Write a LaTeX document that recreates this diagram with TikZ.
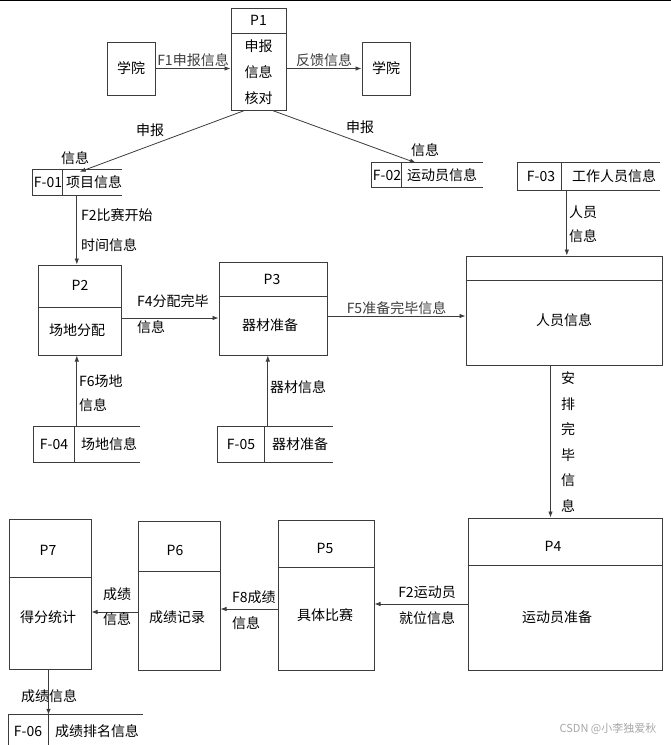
\documentclass[tikz,border=0pt]{standalone}
\usepackage{fontspec}
\setmainfont{Noto Sans CJK SC}
\usetikzlibrary{arrows.meta, positioning, calc}
\definecolor{lgray}{RGB}{60,60,60}
\tikzset{
    procbox/.style={rectangle, draw=lgray, line width=1pt, inner sep=0pt},
    extbox/.style={rectangle, draw=lgray, line width=1pt, inner sep=0pt, minimum width=48pt, minimum height=53pt, font=\fontsize{14}{16}\selectfont},
    storebox/.style={rectangle, inner sep=0pt},
    sepline/.style={draw=lgray, line width=1pt},
    txt/.style={font=\fontsize{14}{16}\selectfont, inner sep=1pt},
    lines/.style={font=\fontsize{14}{#1}\selectfont, inner sep=1pt},
    flow/.style={-{Latex[length=6pt,width=4.5pt]}, line width=0.8pt, lgray},
}
% open-ended data store: name, divider offset
\newcommand{\dstore}[2]{%
    \draw[sepline] (#1.north east) -- (#1.north west) -- (#1.south west) -- (#1.south east)
        ($(#1.north west)+(#2,0)$) -- ($(#1.south west)+(#2,0)$);}

\begin{document}
\begin{tikzpicture}[x=1pt, y=-1pt]
\useasboundingbox (0,0) rectangle (671,745);
\draw[line width=1.2pt] (0,0.6) -- (671,0.6);

% External entities
\node[extbox] (xy1) at (131,68.5) {学院};
\node[extbox] (xy2) at (386,68.5) {学院};

% P1
\node[procbox, minimum width=55pt, minimum height=102pt] (p1) at (258.5,59) {};
\draw[sepline] (p1.west |- 0,33) -- (p1.east |- 0,33);
\node[txt] (p1id) at (258.5,20.5) {P1};
\node[lines=26, align=center] (p1name) at (258.5,72) {申报\\信息\\核对};

% Data stores
\node[storebox, minimum width=89pt, minimum height=25pt] (f01) at (77.5,182.5) {};
\dstore{f01}{30}
\node[txt] (f01id) at (48,182.5) {F-01};
\node[txt] (f01name) at (94,182.5) {项目信息};

\node[storebox, minimum width=111pt, minimum height=24pt] (f02) at (427.5,175) {};
\dstore{f02}{30}
\node[txt] (f02id) at (387,175) {F-02};
\node[txt] (f02name) at (442,175) {运动员信息};

\node[storebox, minimum width=142pt, minimum height=27pt] (f03) at (589,176.5) {};
\dstore{f03}{44}
\node[txt] (f03id) at (541,176.5) {F-03};
\node[txt] (f03name) at (614,176.5) {工作人员信息};

\node[storebox, minimum width=106pt, minimum height=35pt] (f04) at (87,444.5) {};
\dstore{f04}{41}
\node[txt] (f04id) at (54,444.5) {F-04};
\node[txt] (f04name) at (109,444.5) {场地信息};

\node[storebox, minimum width=115pt, minimum height=35pt] (f05) at (275.5,444.5) {};
\dstore{f05}{47}
\node[txt] (f05id) at (241,444.5) {F-05};
\node[txt] (f05name) at (300,444.5) {器材准备};

\node[storebox, minimum width=134pt, minimum height=33pt] (f06) at (76,731.5) {};
\dstore{f06}{40}
\node[txt] (f06id) at (28,731) {F-06};
\node[txt] (f06name) at (97,731) {成绩排名信息};

% Processes
\node[procbox, minimum width=83pt, minimum height=90pt] (p2) at (79.5,310) {};
\draw[sepline] (p2.west |- 0,307) -- (p2.east |- 0,307);
\node[txt] (p2id) at (80,285) {P2};
\node[txt] (p2name) at (77,330) {场地分配};

\node[procbox, minimum width=108pt, minimum height=93pt] (p3) at (273,308.5) {};
\draw[sepline] (p3.west |- 0,296) -- (p3.east |- 0,296);
\node[txt] (p3id) at (272,279) {P3};
\node[txt] (p3name) at (270,325) {器材准备};

\node[procbox, minimum width=196pt, minimum height=109pt] (ry) at (564,310.5) {};
\draw[sepline] (ry.west |- 0,280) -- (ry.east |- 0,280);
\node[txt] (ryname) at (564,320) {人员信息};

\node[procbox, minimum width=194pt, minimum height=152pt] (p4) at (565,594) {};
\draw[sepline] (p4.west |- 0,565) -- (p4.east |- 0,565);
\node[txt] (p4id) at (553,546) {P4};
\node[txt] (p4name) at (557,617) {运动员准备};

\node[procbox, minimum width=96pt, minimum height=150pt] (p5) at (326,595) {};
\draw[sepline] (p5.west |- 0,567) -- (p5.east |- 0,567);
\node[txt] (p5id) at (325,548) {P5};
\node[txt] (p5name) at (325,615) {具体比赛};

\node[procbox, minimum width=82pt, minimum height=149pt] (p6) at (179,595.5) {};
\draw[sepline] (p6.west |- 0,571) -- (p6.east |- 0,571);
\node[txt] (p6id) at (175,550) {P6};
\node[txt] (p6name) at (177,617) {成绩记录};

\node[procbox, minimum width=82pt, minimum height=150pt] (p7) at (50,594) {};
\draw[sepline] (p7.west |- 0,577) -- (p7.east |- 0,577);
\node[txt] (p7id) at (48,550) {P7};
\node[txt] (p7name) at (48,617) {得分统计};

% Arrows
\draw[flow] (xy1.east) -- (xy1.east -| p1.west) node[midway, above, txt] {F1申报信息};
\draw[flow] (p1.east |- xy2.west) -- (xy2.west) node[midway, above, txt] {反馈信息};

\draw[flow] ($(p1.south west)+(14,0)$) -- ($(f01.north west)+(47,2)$);
\node[txt] (l1a) at (150,130) {申报};
\node[txt] (l1b) at (75,158) {信息};
\draw[flow] ($(p1.south west)+(42,0)$) -- ($(f02.north west)+(44,0)$);
\node[txt] (l2a) at (360,127) {申报};
\node[txt] (l2b) at (425,150) {信息};

\coordinate (f01out) at ($(f01.south west)+(44,0)$);
\draw[flow] (f01out) -- (f01out |- p2.north);
\node[lines=30, align=left, anchor=west] (l3) at (80,230) {F2比赛开始\\时间信息};

\coordinate (f03out) at ($(f03.south west)+(49,0)$);
\draw[flow] (f03out) -- (f03out |- ry.north);
\node[lines=24, align=left, anchor=west] (l4) at (568,224) {人员\\信息};

\draw[flow] (p2.east |- 0,318) -- (p3.west |- 0,318);
\node[txt, anchor=west] (l5a) at (136,301) {F4分配完毕};
\node[txt, anchor=west] (l5b) at (136,327) {信息};

\draw[flow] (p3.east |- 0,316) -- (ry.west |- 0,316) node[midway, above, txt] {F5准备完毕信息};

\coordinate (f04in) at ($(f04.north west)+(43,0)$);
\draw[flow] (f04in) -- (f04in |- p2.south);
\node[lines=24, align=left, anchor=west] (l6) at (78,393) {F6场地\\信息};

\coordinate (f05in) at ($(f05.north west)+(50,0)$);
\draw[flow] (f05in) -- (f05in |- p3.south);
\node[txt, anchor=west] (l7) at (269,387) {器材信息};

\coordinate (ryout) at ($(ry.south west)+(85,0)$);
\draw[flow] (ryout) -- (ryout |- p4.north);
\node[lines=25.6, align=center] (l8) at (568,442) {安\\排\\完\\毕\\信\\息};

\draw[flow] (p4.west |- 0,604) -- (p5.east |- 0,604);
\node[lines=26, align=center] (l9) at (427,605) {F2运动员\\就位信息};

\draw[flow] (p5.west |- 0,609) -- (p6.east |- 0,609);
\node[txt, anchor=west] (l10a) at (231,597) {F8成绩};
\node[txt, anchor=west] (l10b) at (231,623) {信息};

\draw[flow] (p6.west |- 0,612) -- (p7.east |- 0,612);
\node[lines=25, align=center] (l11) at (117,607) {成绩\\信息};

\coordinate (p7out) at ($(p7.south west)+(40,0)$);
\draw[flow] (p7out) -- (p7out |- f06.north);
\node[txt] (l12) at (49,696) {成绩信息};

% Watermark
\node[font=\fontsize{11}{13}\selectfont, text=black!35] (wm) at (608,729) {CSDN @小李独爱秋};

\end{tikzpicture}
\end{document}
